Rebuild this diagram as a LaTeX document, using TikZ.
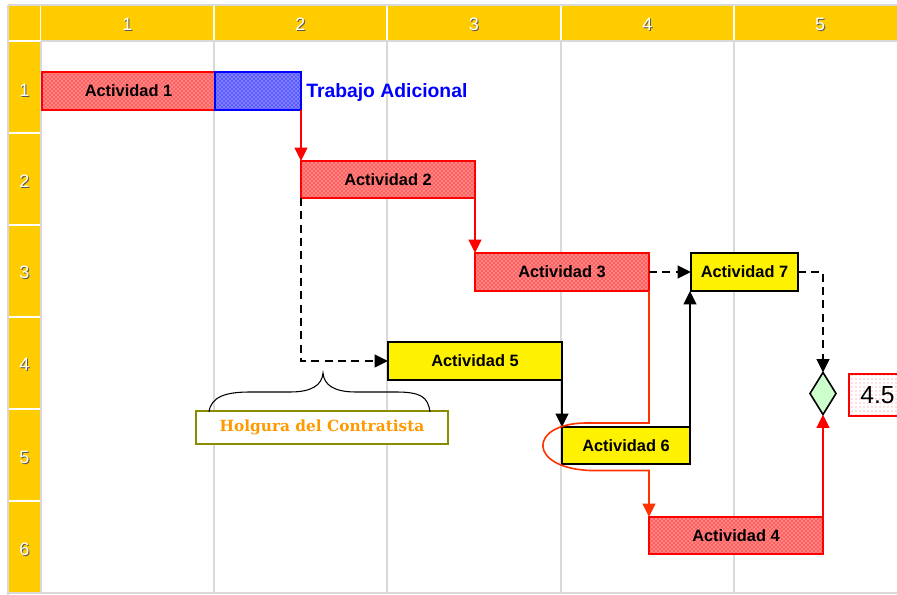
\documentclass[tikz,border=0pt]{standalone}
\usepackage{fontspec}
\setmainfont{Liberation Sans}
\newfontfamily\holfont{DejaVu Serif}
\usetikzlibrary{patterns,arrows.meta,shapes.geometric}
\definecolor{gold}{HTML}{FFCC00}
\definecolor{gridgray}{HTML}{D9D9D9}
\definecolor{actred}{HTML}{FF0000}
\definecolor{lightred}{HTML}{FF6060}
\definecolor{lightblue}{HTML}{5A5AFF}
\definecolor{olive}{HTML}{8C8C00}
\definecolor{holorange}{HTML}{FF9900}
\definecolor{looporange}{HTML}{FF3300}
\definecolor{dgreen}{HTML}{CCFFCC}
\tikzset{
  hdr/.style={text=white, font=\fontsize{13.5}{15}\selectfont, inner sep=0pt},
  hdrshadow/.style={text=black!65, font=\fontsize{13.5}{15}\selectfont, inner sep=0pt},
  actbase/.style={draw, line width=1.2pt, inner sep=0pt, outer sep=0pt, font=\bfseries\fontsize{12.3}{14}\selectfont, text=black},
  redact/.style={actbase, draw=actred, preaction={fill=lightred}, pattern=crosshatch dots, pattern color=white},
  blueact/.style={actbase, draw=blue, preaction={fill=lightblue}, pattern=crosshatch dots, pattern color=white},
  yelact/.style={actbase, draw=black, fill=yellow},
  tip/.style={-{Triangle[width=9.5pt,length=10pt]}},
  redarrow/.style={draw=actred, line width=1.4pt, tip},
  blackarrow/.style={draw=black, line width=1.4pt, tip},
  dasharrow/.style={draw=black, line width=1.4pt, dash pattern=on 6pt off 4pt, tip},
}
\begin{document}
\begin{tikzpicture}[x=0.75pt,y=-0.75pt]
\useasboundingbox (0,0) rectangle (897,595);
% grid
\draw[gridgray, line width=1pt] (8,5) -- (897,5);
\draw[gridgray, line width=1pt] (8,5) -- (8,595);
\draw[gridgray, line width=1pt] (8,593) -- (897,593);
\draw[gridgray, line width=1pt] (41,41) -- (897,41);
\foreach \x in {214,387,561,734} \draw[gridgray, line width=1pt] (\x,41) -- (\x,593);
\fill[gold] (9,6) rectangle (897,40);
\fill[gold] (9,6) rectangle (40,592);
\draw[white, line width=1.3pt] (40.5,6) -- (40.5,40);
\foreach \x in {214,387,561,734} \draw[white, line width=1.3pt] (\x,6) -- (\x,40);
\foreach \y in {41,133,225,317,409,501} \draw[white, line width=1.3pt] (9,\y) -- (40,\y);
\draw[gridgray, line width=1pt] (41,41) -- (41,593);
% header labels
\foreach \n/\x in {1/127.5,2/300.5,3/474,4/647.5,5/820} {
  \node[hdrshadow] at (\x+1,25) {\n};
  \node[hdr] (c\n) at (\x,24) {\n};
}
\foreach \n/\y in {1/90,2/181,3/272,4/364,5/457,6/549} {
  \node[hdrshadow] at (25.5,\y+1) {\n};
  \node[hdr] (r\n) at (24.5,\y) {\n};
}
% activities
\node[redact, minimum width=129.75pt, minimum height=28.5pt] (A1) at (128.5,91) {Actividad 1};
\node[blueact, minimum width=64.5pt, minimum height=28.5pt] (TA) at (258,91) {};
\node[anchor=west, text=blue, font=\bfseries\fontsize{14.5}{16}\selectfont, inner sep=0pt] (TAL) at (306,93) {Trabajo Adicional};
\node[redact, minimum width=130.5pt, minimum height=27.75pt] (A2) at (388,179.5) {Actividad 2};
\node[redact, minimum width=130.5pt, minimum height=28.5pt] (A3) at (562,272) {Actividad 3};
\node[yelact, minimum width=130.5pt, minimum height=28.5pt] (A5) at (475,361) {Actividad 5};
\node[yelact, minimum width=96pt, minimum height=27.75pt] (A6) at (626,445.5) {Actividad 6};
\node[yelact, minimum width=80.25pt, minimum height=28.5pt] (A7) at (744.5,272) {Actividad 7};
\node[redact, minimum width=130.5pt, minimum height=27.75pt] (A4) at (736,535.5) {Actividad 4};
\node[diamond, draw=black, fill=dgreen, line width=1.2pt, inner sep=0pt, outer sep=0pt, minimum width=19.5pt, minimum height=31.5pt] (D) at (823,393.5) {};
\node[draw=actred, line width=2pt, preaction={fill=white}, pattern=dots, pattern color=red!55, minimum width=42.75pt, minimum height=31.5pt, inner sep=0pt] (V) at (877.5,395) {};
\node[font=\fontsize{18.5}{20}\selectfont, inner sep=0pt] (VT) at (V.center) {4.5};
\node[draw=olive, line width=2pt, fill=white, minimum width=189pt, minimum height=24.75pt, inner sep=0pt, text=holorange, font=\holfont\bfseries\fontsize{11.5}{13}\selectfont] (H) at (322,427.5) {Holgura del Contratista};
% brace
\draw[black, line width=0.8pt] (209,412) .. controls (211,397) and (225,392) .. (250,392) -- (290,392) .. controls (312,392) and (322,385) .. (323,373) .. controls (324,385) and (334,392) .. (356,392) -- (396,392) .. controls (421,392) and (428,397) .. (430,412);
% connectors
\draw[redarrow] (TA.south east) -- (TA.south east |- A2.north);
\draw[redarrow] (A2.south east) -- (A2.south east |- A3.north);
\draw[dasharrow] (A2.south west) |- (A5.west);
\draw[blackarrow] (A5.south east) -- (A5.south east |- A6.north);
\draw[blackarrow] (A6.north east) -- (A6.north east |- A7.south);
\draw[dasharrow] (A3.east) -- (A7.west);
\draw[dasharrow] (A7.east) -| (D.north);
\draw[redarrow] (A4.north east) -- (A4.north east |- D.south);
\draw[looporange, line width=1.2pt, tip] (A3.south east) |- (585,423) .. controls (528,424) and (528,468) .. (590,470.5) -| (A4.north west);
\end{tikzpicture}
\end{document}
